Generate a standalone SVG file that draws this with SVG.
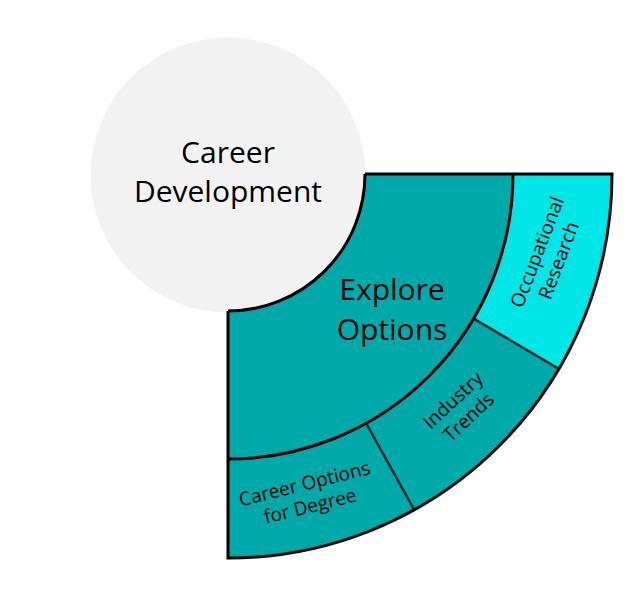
<svg xmlns="http://www.w3.org/2000/svg" width="643" height="606" viewBox="0 0 643 606">
  <style>
    .lbl { font-family: "Open Sans", "Noto Sans", sans-serif; fill: #000; text-anchor: middle; }
    .big { font-size: 30px; }
    .small { font-size: 19px; }
    .teal { fill: #00A9A9; }
    .cyan { fill: #00E6E6; }
    .edge { fill: none; stroke: #000; stroke-width: 3; stroke-linejoin: miter; }
    .div { fill: none; stroke: #2a2a2a; stroke-width: 2.5; }
  </style>
  <rect width="643" height="606" fill="#ffffff"/>

  <g id="career-development">
    <circle cx="228" cy="175" r="137.5" fill="#F2F2F2"/>
    <text class="lbl big" x="228" y="163">Career</text>
    <text class="lbl big" x="228" y="202">Development</text>
  </g>

  <g id="explore-options">
    <path class="teal" d="M365,174 L513,174 A285,285 0 0 1 228,459 L228,311 A137,137 0 0 0 365,174 Z"/>
    <text class="lbl big" x="392" y="300">Explore</text>
    <text class="lbl big" x="392" y="340">Options</text>
  </g>

  <g id="occupational-research">
    <path class="cyan" d="M513,174 L612,174 A384,384 0 0 1 558.9,368.9 L473.6,318.6 A285,285 0 0 0 513,174 Z"/>
    <g transform="translate(547,256) rotate(-69)">
      <text class="lbl small" x="0" y="-4">Occupational</text>
      <text class="lbl small" x="0" y="19">Research</text>
    </g>
  </g>

  <g id="industry-trends">
    <path class="teal" d="M473.6,318.6 L558.9,368.9 A384,384 0 0 1 414.2,509.8 L366.2,423.3 A285,285 0 0 0 473.6,318.6 Z"/>
    <g transform="translate(460,408) rotate(-43)">
      <text class="lbl small" x="0" y="-4">Industry</text>
      <text class="lbl small" x="0" y="19">Trends</text>
    </g>
  </g>

  <g id="career-options-for-degree">
    <path class="teal" d="M366.2,423.3 L414.2,509.8 A384,384 0 0 1 228,558 L228,459 A285,285 0 0 0 366.2,423.3 Z"/>
    <g transform="translate(307,494) rotate(-14)">
      <text class="lbl small" x="0" y="-4">Career Options</text>
      <text class="lbl small" x="0" y="19">for Degree</text>
    </g>
  </g>

  <g id="connectors">
    <path class="div" d="M473.6,318.6 L558.9,368.9"/>
    <path class="div" d="M366.2,423.3 L414.2,509.8"/>
    <path class="edge" d="M228,311 A137,137 0 0 0 365,174"/>
    <path class="edge" d="M513,174 A285,285 0 0 1 228,459"/>
    <path class="edge" d="M365,174 L612,174 A384,384 0 0 1 228,558 L228,311"/>
  </g>
</svg>
